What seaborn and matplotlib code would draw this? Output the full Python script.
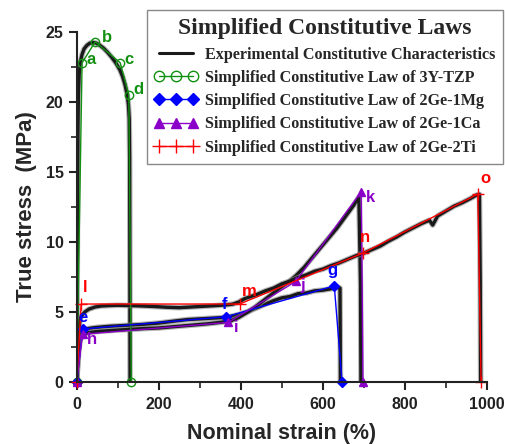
import matplotlib
matplotlib.use("Agg")
import matplotlib.pyplot as plt
import seaborn as sns
from matplotlib.ticker import MultipleLocator

# experimental curves
exp_tzp_x = [0, 1, 2, 3, 4, 6, 9, 13, 18, 25, 32, 40, 48, 56, 65, 75, 85, 95, 105, 112, 118, 123, 126, 128, 129, 129.5, 130]
exp_tzp_y = [0, 6, 13, 18, 20.5, 22.0, 22.9, 23.4, 23.8, 24.05, 24.2, 24.25, 24.2, 24.05, 23.85, 23.55, 23.2, 22.8, 22.3, 21.8, 21.2, 20.5, 19.8, 18.8, 16, 8, 0]

exp_mg_x = [0, 2, 4, 7, 10, 14, 20, 30, 45, 60, 80, 100, 130, 160, 200, 240, 270, 300, 330, 360, 380, 400, 420, 440, 460, 480, 500, 520, 540, 560, 580, 600, 620, 632, 638, 642, 643]
exp_mg_y = [0, 1.2, 2.4, 3.2, 3.5, 3.65, 3.75, 3.82, 3.88, 3.92, 3.97, 4.0, 4.05, 4.1, 4.2, 4.35, 4.45, 4.5, 4.55, 4.6, 4.7, 4.85, 5.05, 5.3, 5.55, 5.8, 6.0, 6.1, 6.3, 6.35, 6.5, 6.55, 6.65, 6.8, 6.75, 6.7, 0]

exp_ca_x = [0, 2, 5, 8, 12, 16, 22, 30, 45, 60, 80, 100, 130, 160, 200, 240, 280, 320, 350, 375, 395, 415, 435, 455, 475, 495, 515, 535, 555, 575, 595, 615, 635, 655, 675, 688, 692, 693]
exp_ca_y = [0, 1.0, 2.2, 2.9, 3.2, 3.35, 3.45, 3.52, 3.58, 3.62, 3.66, 3.7, 3.75, 3.8, 3.85, 3.95, 4.05, 4.15, 4.25, 4.35, 4.6, 4.95, 5.35, 5.8, 6.25, 6.7, 7.1, 7.6, 8.2, 8.9, 9.6, 10.3, 11.0, 11.8, 12.6, 13.2, 7, 0]

exp_ti_x = [0, 2, 4, 6, 8, 10, 14, 20, 30, 45, 60, 80, 100, 130, 160, 190, 220, 250, 280, 310, 340, 365, 380, 395, 410, 425, 440, 460, 480, 500, 520, 540, 560, 580, 600, 620, 640, 660, 680, 700, 720, 740, 760, 780, 800, 820, 840, 860, 868, 880, 900, 920, 940, 960, 975, 982, 984, 985]
exp_ti_y = [0, 1.5, 3.0, 3.9, 4.4, 4.6, 4.8, 5.0, 5.2, 5.35, 5.42, 5.45, 5.47, 5.45, 5.42, 5.38, 5.33, 5.3, 5.35, 5.4, 5.45, 5.5, 5.55, 5.7, 5.95, 6.1, 6.25, 6.5, 6.7, 7.0, 7.2, 7.45, 7.65, 7.9, 8.05, 8.3, 8.5, 8.75, 9.0, 9.2, 9.45, 9.7, 10.05, 10.35, 10.7, 11.0, 11.3, 11.55, 11.2, 11.85, 12.2, 12.55, 12.8, 13.1, 13.35, 13.4, 7, 0]

# simplified constitutive laws (key points)
tzp_x = [0, 13, 45, 106, 127, 133]
tzp_y = [0, 22.8, 24.3, 22.8, 20.5, 0]
tzp_lab = ["", "a", "b", "c", "d", ""]

mg_x = [0, 14.7, 364, 628, 647]
mg_y = [0, 3.78, 4.65, 6.86, 0]
mg_lab = ["", "e", "f", "g", ""]

ca_x = [0, 14, 370, 534, 694, 698]
ca_y = [0, 3.4, 4.25, 7.17, 13.6, 0]
ca_lab = ["", "h", "i", "j", "k", ""]

ti_x = [0, 10.7, 397, 698, 978, 986]
ti_y = [0, 5.56, 5.56, 9.2, 13.42, 0]
ti_lab = ["", "l", "m", "n", "o", ""]

sns.set_style("ticks")
fig = plt.figure(figsize=(5.05, 4.44), dpi=100)
ax = fig.add_axes([0.152, 0.140, 0.812, 0.788])

for ex, ey in [(exp_tzp_x, exp_tzp_y), (exp_mg_x, exp_mg_y), (exp_ca_x, exp_ca_y), (exp_ti_x, exp_ti_y)]:
    sns.lineplot(x=ex, y=ey, sort=False, estimator=None, color="#888888", lw=4.0, alpha=0.6, ax=ax)
    sns.lineplot(x=ex, y=ey, sort=False, estimator=None, color="#1a1a1a", lw=2.4, ax=ax)

models = [
    (tzp_x, tzp_y, tzp_lab, "#129012", "o", "none", 6, "Simplified Constitutive Law of 3Y-TZP"),
    (mg_x, mg_y, mg_lab, "#0000ff", "D", "#0000ff", 5, "Simplified Constitutive Law of 2Ge-1Mg"),
    (ca_x, ca_y, ca_lab, "#8a00c8", "^", "#8a00c8", 6, "Simplified Constitutive Law of 2Ge-1Ca"),
    (ti_x, ti_y, ti_lab, "#ff0000", "+", "#ff0000", 8, "Simplified Constitutive Law of 2Ge-2Ti"),
]
# offsets of the point labels (points), label is vertically centred
offs = {"a": (3, 2), "b": (5, 3), "c": (3, 2), "d": (3, 4),
        "e": (-3, 8), "f": (-3, 9), "g": (-5, 11), "h": (3, -4), "i": (4, -4),
        "j": (3, -3), "k": (3, -4), "l": (1, 12), "m": (2, 9), "n": (-2, 11), "o": (2, 11)}

handles = []
for mx, my, labs, col, mk, fc, ms, name in models:
    sns.lineplot(x=mx, y=my, sort=False, estimator=None, color=col, lw=1.0, ax=ax,
                 marker=mk, markersize=ms, markerfacecolor=fc, markeredgecolor=col,
                 markeredgewidth=1.0, clip_on=False)
    for px, py, t in zip(mx, my, labs):
        if t:
            ax.annotate(t, (px, py), xytext=offs[t], textcoords="offset points",
                        color=col, fontsize=12, fontweight="bold", family="Liberation Sans",
                        ha="left", va="center")
    handles.append(plt.Line2D([], [], color=col, lw=1.0, marker=mk, markersize=ms + 1.5,
                              markerfacecolor=fc, markeredgecolor=col, label=name))

exp_handle = plt.Line2D([], [], color="#1a1a1a", lw=2.2, label="Experimental Constitutive Characteristics")

ax.set_xlim(0, 1000)
ax.set_ylim(0, 25)
ax.xaxis.set_major_locator(MultipleLocator(200))
ax.xaxis.set_minor_locator(MultipleLocator(100))
ax.yaxis.set_major_locator(MultipleLocator(5))
ax.yaxis.set_minor_locator(MultipleLocator(2.5))
ax.tick_params(which="major", direction="out", length=6, width=1.5, colors="#222222")
ax.tick_params(axis="x", which="major", pad=5)
ax.tick_params(which="minor", direction="out", length=4, width=1.2, colors="#222222")
for t in ax.get_xticklabels() + ax.get_yticklabels():
    t.set_fontsize(11.5)
    t.set_fontweight("bold")
    t.set_family("Liberation Sans")
sns.despine(ax=ax)
for s in ["left", "bottom"]:
    ax.spines[s].set_linewidth(1.5)
    ax.spines[s].set_color("#222222")

ax.set_xlabel("Nominal strain (%)", fontsize=15.5, fontweight="bold", family="Liberation Sans", labelpad=8)
ax.set_ylabel("True stress  (MPa)", fontsize=16, fontweight="bold", family="Liberation Sans", labelpad=6)

leg = fig.legend(handles=[exp_handle] + handles, loc="upper right", bbox_to_anchor=(0.996, 0.977),
                 title="Simplified Constitutive Laws", numpoints=3, handlelength=2.7,
                 prop={"family": "Liberation Serif", "weight": "bold", "size": 11.6},
                 title_fontproperties={"family": "Liberation Serif", "weight": "bold", "size": 17},
                 fancybox=False, framealpha=1, edgecolor="#888888", labelspacing=0.45,
                 borderpad=0.5, handletextpad=0.4, borderaxespad=0)
leg.get_frame().set_linewidth(1.0)

fig.savefig("out.png", dpi=100)
